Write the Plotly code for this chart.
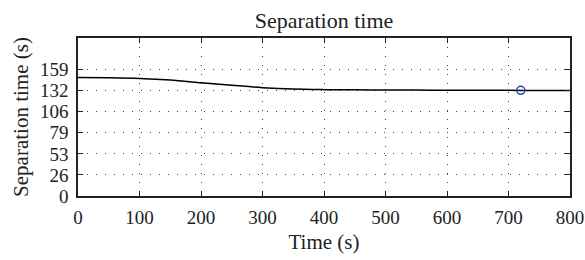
import plotly.graph_objects as go

time_s = [0, 50, 100, 150, 200, 250, 300, 350, 400, 450, 500, 550, 600, 650, 700, 750, 800]
sep_time = [149.0, 148.7, 147.8, 145.8, 142.5, 139.2, 136.3, 134.5, 133.8, 133.5, 133.3, 133.2, 133.1, 133.0, 132.9, 132.8, 132.6]
marker_x = [720]
marker_y = [133.0]

x_ticks = [0, 100, 200, 300, 400, 500, 600, 700, 800]
y_tickvals = [0, 26.5, 53, 79.5, 106, 132.5, 159]
y_ticktext = ["0", "26", "53", "79", "106", "132", "159"]

FONT = "Liberation Serif"

fig = go.Figure()
fig.add_trace(go.Scatter(x=time_s, y=sep_time, mode="lines",
                         line=dict(color="black", width=1.5, shape="spline", smoothing=0.8),
                         showlegend=False, hoverinfo="skip"))
fig.add_trace(go.Scatter(x=marker_x, y=marker_y, mode="markers",
                         marker=dict(symbol="circle-open", size=8, color="#2a48b0",
                                     line=dict(width=1.5, color="#2a48b0")),
                         showlegend=False))

axis_common = dict(
    showline=True, linecolor="#222", linewidth=1.5, mirror="allticks",
    ticks="inside", ticklen=5, tickwidth=1.2, tickcolor="#222",
    showgrid=True, gridcolor="#444", gridwidth=1, griddash="1px,8px",
    zeroline=False, automargin=False,
    tickfont=dict(family=FONT, size=19, color="#222"),
)

fig.update_xaxes(range=[0, 800], tickvals=x_ticks,
                 title=dict(text="Time (s)", font=dict(family=FONT, size=21, color="#222"), standoff=8),
                 ticklabelstandoff=3, **axis_common)
fig.update_yaxes(range=[0, 198.75], tickvals=y_tickvals, ticktext=y_ticktext,
                 title=dict(text="Separation time (s)", font=dict(family=FONT, size=21, color="#222"), standoff=6),
                 ticklabelstandoff=4, **axis_common)

fig.update_layout(
    width=585, height=260,
    margin=dict(l=78, r=15, t=38, b=64),
    paper_bgcolor="white", plot_bgcolor="white",
    title=dict(text="Separation time", x=0.5, xanchor="center", xref="paper",
               y=0.95, yanchor="top", yref="container",
               font=dict(family=FONT, size=22, color="#222")),
)

fig.write_html("out.html", config={"displayModeBar": False},
               post_script="document.body.style.margin='0';")
